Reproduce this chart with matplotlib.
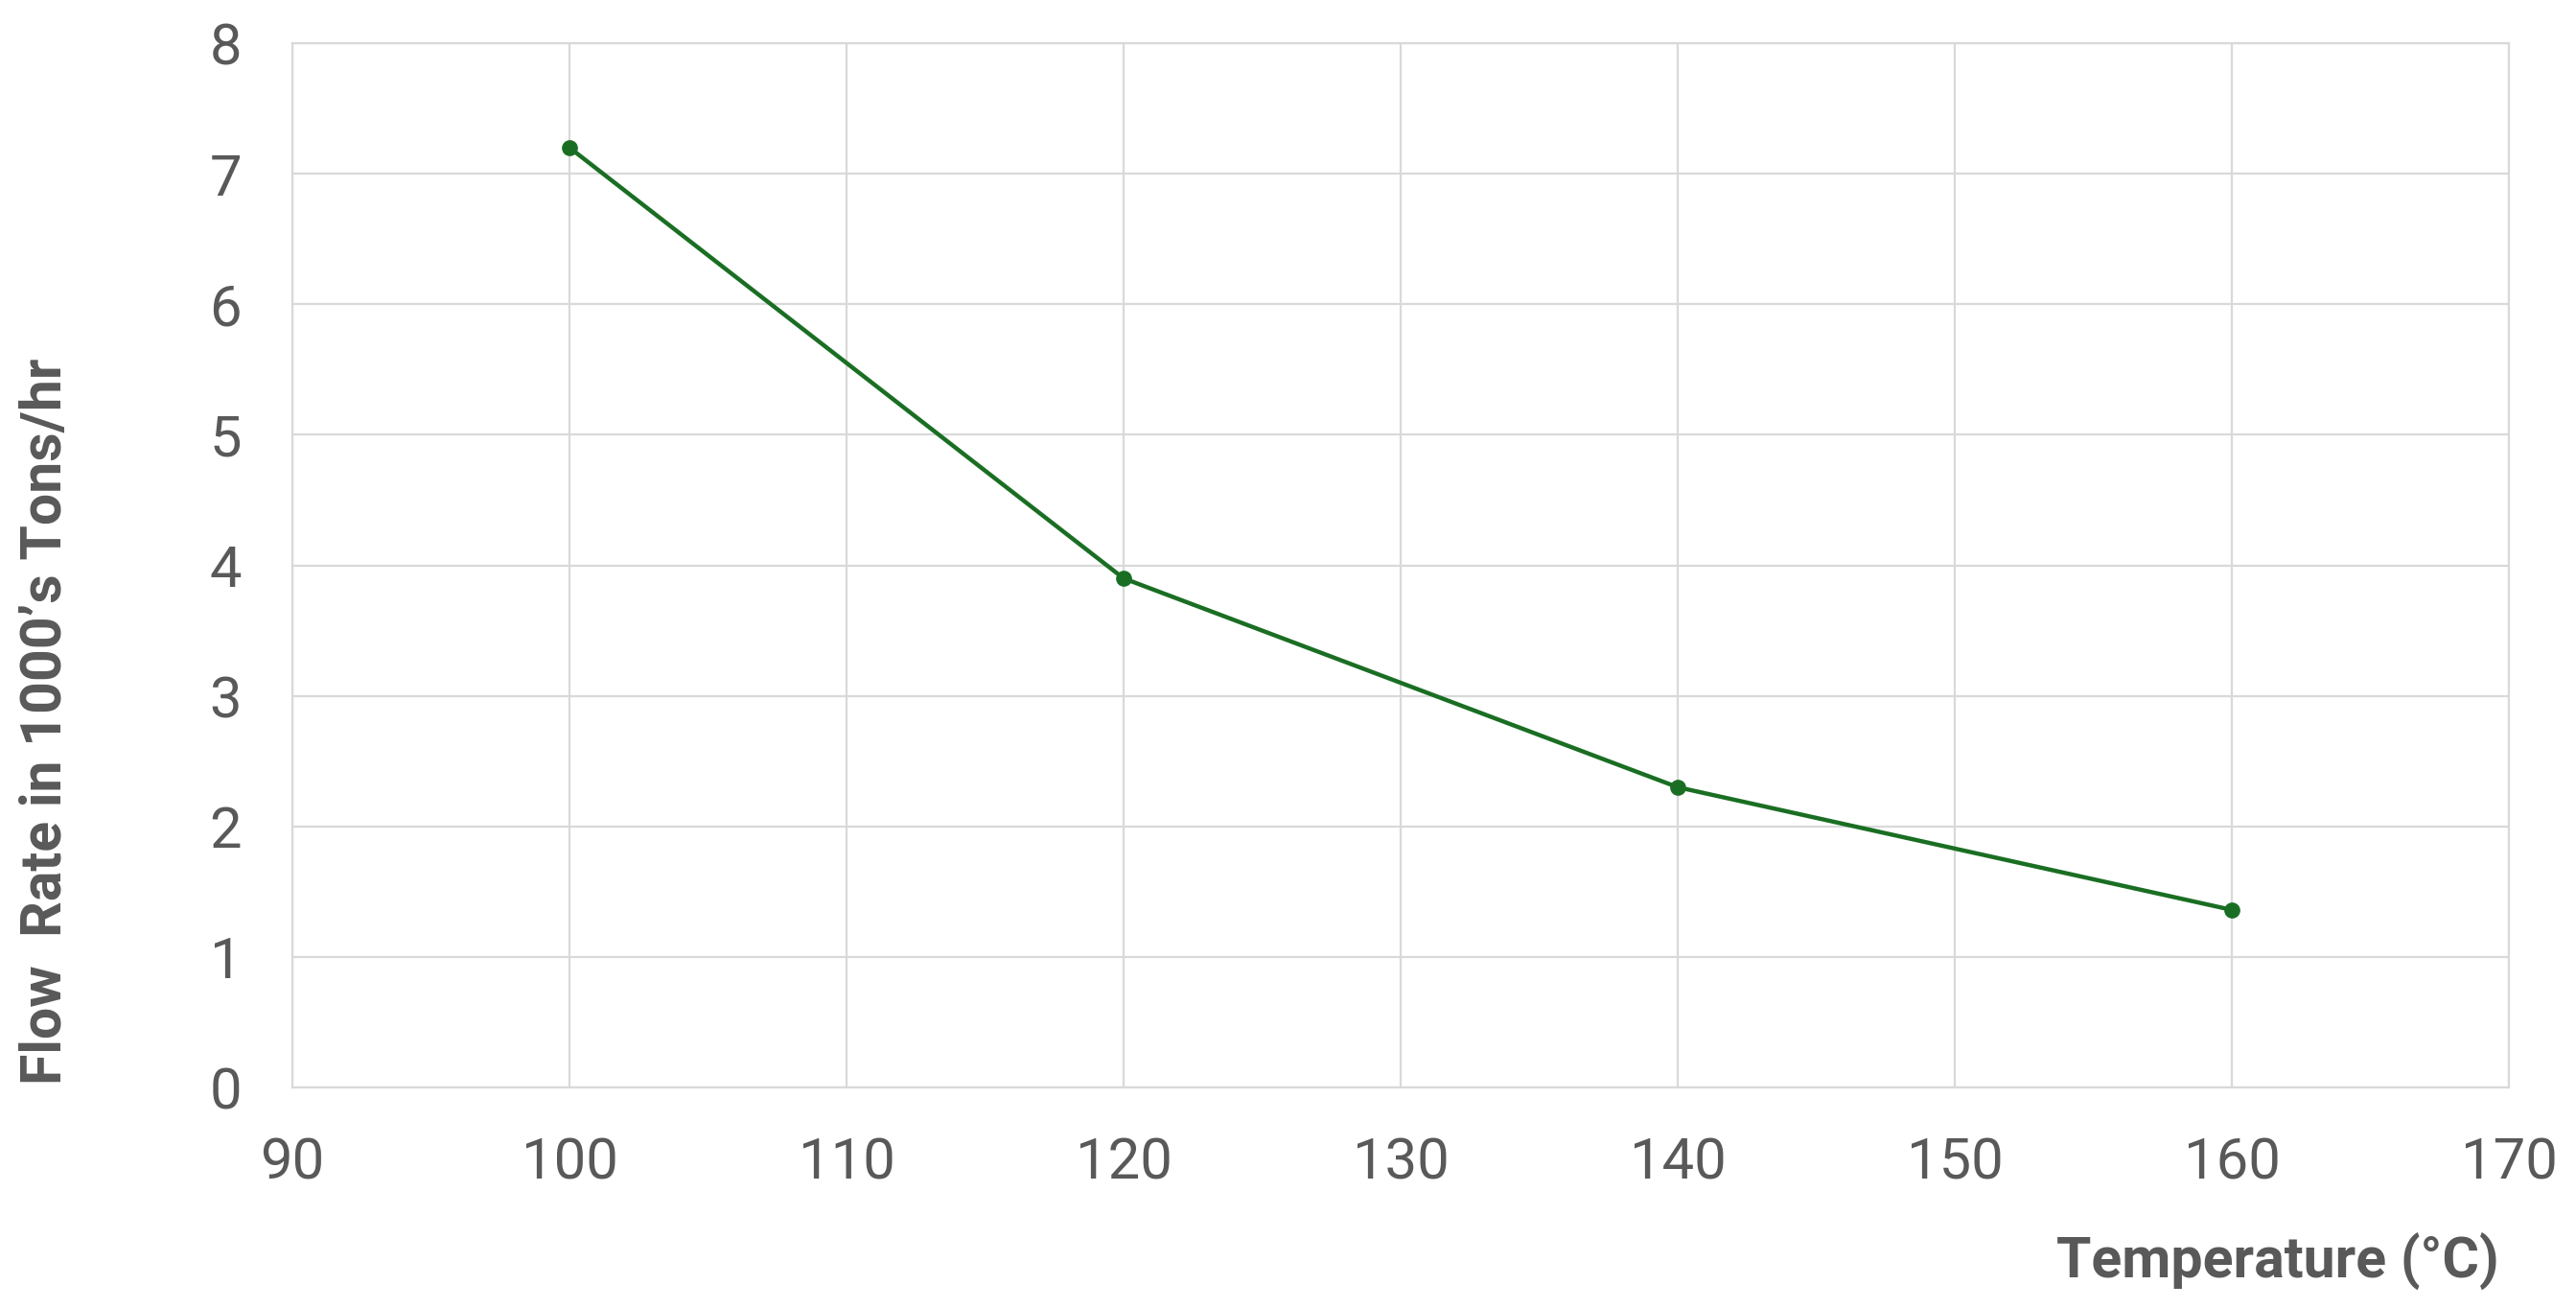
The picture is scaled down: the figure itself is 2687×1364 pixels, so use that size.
import matplotlib
matplotlib.use("Agg")
import matplotlib.pyplot as plt

temperature = [100, 120, 140, 160]
flow_rate = [7.2, 3.9, 2.3, 1.36]
x_ticks = [90, 100, 110, 120, 130, 140, 150, 160, 170]
y_ticks = [0, 1, 2, 3, 4, 5, 6, 7, 8]

grey = '#595959'
grid_col = '#d9d9d9'

plt.rcParams['font.family'] = ['Roboto', 'DejaVu Sans']

fig = plt.figure(figsize=(26.87, 13.64), dpi=100)
ax = fig.add_axes([0.1135, 0.1686, 0.8605, 0.7984])

ax.plot(temperature, flow_rate, color='#1a6e23', linewidth=3.2,
        marker='o', markersize=11, zorder=3)

ax.set_xlim(90, 170)
ax.set_ylim(0, 8)
ax.set_xticks(x_ticks)
ax.set_yticks(y_ticks)
ax.grid(True, color=grid_col, linewidth=1.6)
for s in ax.spines.values():
    s.set_color(grid_col)
    s.set_linewidth(1.6)
ax.tick_params(length=0, labelsize=43, labelcolor=grey)
ax.tick_params(axis='x', pad=36)
ax.tick_params(axis='y', pad=38)

fig.text(0.970, 0.035, 'Temperature (°C)', ha='right', va='center',
         fontsize=42.5, fontweight='bold', color=grey)
fig.text(0.018, 1 - 1131 / 1364, 'Flow  Rate in 1000’s Tons/hr', rotation=90,
         ha='center', va='bottom', fontsize=42.5, fontweight='bold', color=grey)

fig.savefig('out.png', dpi=100, facecolor='white')
